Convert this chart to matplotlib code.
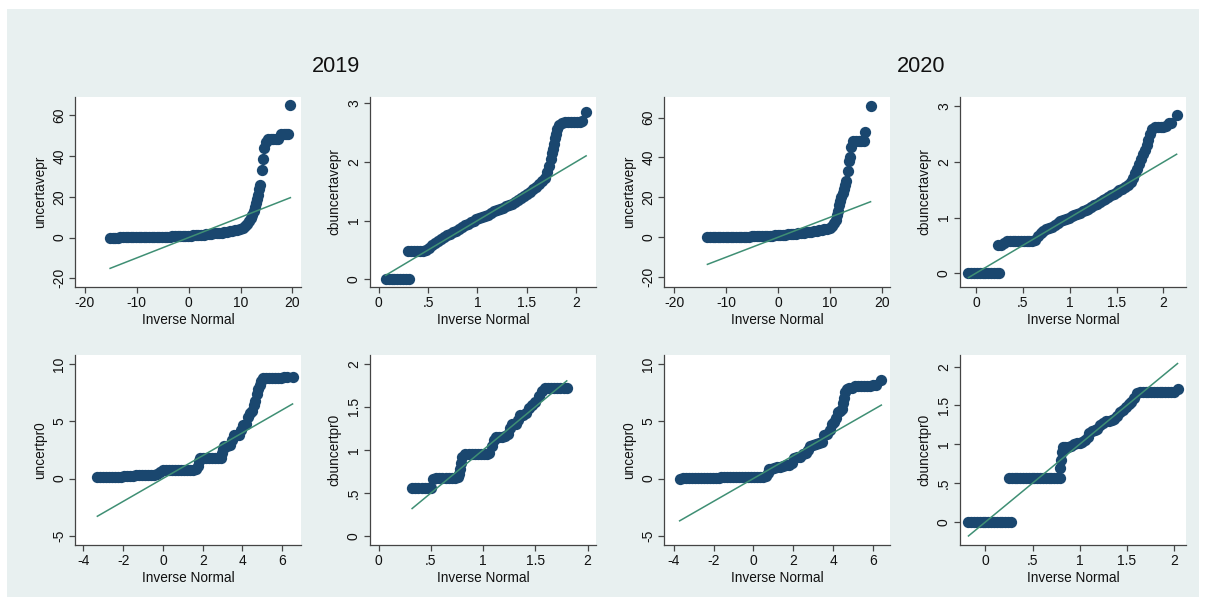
import matplotlib.pyplot as plt
from matplotlib.patches import Rectangle

plt.rcParams['font.family'] = ['Liberation Sans', 'DejaVu Sans']

# (inverse normal, value) pairs

# 2019 - uncertavepr
pts_u19 = [(-15.1, 0), (-14.6, 0), (-14.1, 0), (-13.6, 0), (-13.1, 0.05), (-12.6, 0.05),
           (-12.1, 0.1), (-11.6, 0.1), (-11.1, 0.1), (-10.6, 0.15), (-10.1, 0.15),
           (-9.6, 0.2), (-9.1, 0.2), (-8.6, 0.25), (-8.1, 0.25), (-7.6, 0.3), (-7.1, 0.3),
           (-6.6, 0.35), (-6.1, 0.35), (-5.6, 0.4), (-5.1, 0.4),
           (-4.6, 0.45), (-4.1, 0.5), (-3.6, 0.5), (-3.1, 0.55), (-2.6, 0.6), (-2.1, 0.65),
           (-1.6, 0.7), (-1.1, 0.75), (-0.6, 0.8), (-0.1, 0.9),
           (0.4, 1.0), (0.9, 1.1), (1.4, 1.2), (1.9, 1.3), (2.4, 1.4), (2.9, 1.5), (3.4, 1.6),
           (3.9, 1.75), (4.4, 1.9), (4.9, 2.05),
           (5.4, 2.2), (5.9, 2.35), (6.4, 2.5), (6.9, 2.7), (7.4, 2.9), (7.9, 3.1), (8.4, 3.35),
           (8.9, 3.6), (9.4, 3.9), (9.9, 4.3), (10.4, 4.8), (10.9, 5.5),
           (11.3, 6.5), (11.7, 8), (12.0, 9.5), (12.3, 11), (12.6, 13), (12.8, 15), (13.0, 17),
           (13.2, 19), (13.4, 21), (13.6, 24), (13.8, 26),
           (14.2, 33), (14.4, 38.5), (14.6, 44), (14.9, 47),
           (15.3, 48.5), (15.8, 48.5), (16.3, 48.5), (16.8, 48.5), (17.3, 48.5),
           (17.8, 51), (18.3, 51), (18.8, 51), (19.2, 51), (19.6, 65)]

# 2019 - cbuncertavepr
pts_c19 = [(0.07, 0), (0.10, 0), (0.13, 0), (0.16, 0), (0.19, 0), (0.22, 0), (0.25, 0),
           (0.28, 0), (0.31, 0),
           (0.30, 0.48), (0.33, 0.48), (0.36, 0.48), (0.39, 0.48), (0.42, 0.48), (0.45, 0.48),
           (0.48, 0.5),
           (0.51, 0.54), (0.54, 0.58), (0.57, 0.62), (0.60, 0.66), (0.63, 0.69), (0.66, 0.72),
           (0.69, 0.75), (0.72, 0.78), (0.75, 0.8), (0.78, 0.83), (0.81, 0.86), (0.84, 0.89),
           (0.87, 0.92), (0.90, 0.95), (0.93, 0.97), (0.96, 0.99), (0.99, 1.02), (1.02, 1.04),
           (1.05, 1.06), (1.08, 1.08), (1.11, 1.1), (1.14, 1.13), (1.17, 1.16), (1.20, 1.18),
           (1.23, 1.19), (1.26, 1.21), (1.29, 1.24), (1.32, 1.27), (1.35, 1.29), (1.38, 1.32),
           (1.41, 1.35), (1.44, 1.38), (1.47, 1.42), (1.50, 1.45), (1.53, 1.49), (1.56, 1.53),
           (1.59, 1.57), (1.62, 1.62), (1.65, 1.67), (1.68, 1.73), (1.70, 1.82), (1.72, 1.92),
           (1.74, 2.05), (1.75, 2.15), (1.76, 2.22), (1.77, 2.3), (1.78, 2.4), (1.79, 2.47),
           (1.81, 2.55), (1.83, 2.62), (1.86, 2.66), (1.89, 2.67), (1.92, 2.67), (1.95, 2.67),
           (1.98, 2.67), (2.01, 2.67), (2.04, 2.68), (2.06, 2.7), (2.10, 2.85)]

# 2020 - uncertavepr
pts_u20 = [(-13.6, 0), (-13.1, 0), (-12.6, 0), (-12.1, 0.05), (-11.6, 0.05), (-11.1, 0.1),
           (-10.6, 0.1), (-10.1, 0.1), (-9.6, 0.15), (-9.1, 0.15),
           (-8.6, 0.2), (-8.1, 0.2), (-7.6, 0.25), (-7.1, 0.25), (-6.6, 0.3), (-6.1, 0.3),
           (-5.6, 0.35), (-5.1, 0.4), (-4.6, 0.4), (-4.1, 0.45),
           (-3.6, 0.5), (-3.1, 0.55), (-2.6, 0.6), (-2.1, 0.65), (-1.6, 0.7), (-1.1, 0.8),
           (-0.6, 0.9), (-0.1, 1.0), (0.4, 1.1), (0.9, 1.2),
           (1.4, 1.3), (1.9, 1.4), (2.4, 1.5), (2.9, 1.65), (3.4, 1.8), (3.9, 1.95), (4.4, 2.1),
           (4.9, 2.25), (5.4, 2.4), (5.9, 2.6),
           (6.4, 2.8), (6.9, 3.0), (7.4, 3.2), (7.9, 3.45), (8.4, 3.7), (8.9, 4.0), (9.4, 4.3),
           (9.9, 4.8), (10.4, 5.5),
           (10.8, 7), (11.1, 8.5), (11.4, 11), (11.6, 13), (11.8, 16), (12.0, 18), (12.2, 20),
           (12.4, 22), (12.6, 24), (12.8, 26), (13.0, 28), (13.4, 33), (13.7, 38), (13.9, 40),
           (14.1, 45), (14.5, 48), (15.0, 48), (15.5, 48), (16.0, 48), (16.5, 48),
           (16.8, 52.8), (17.8, 65.7)]

# 2020 - cbuncertavepr
pts_c20 = [(-0.08, 0), (-0.05, 0), (-0.02, 0), (0.01, 0), (0.04, 0), (0.07, 0), (0.10, 0),
           (0.13, 0), (0.16, 0), (0.19, 0), (0.22, 0), (0.25, 0),
           (0.24, 0.5), (0.27, 0.5), (0.30, 0.55), (0.33, 0.57), (0.36, 0.57), (0.39, 0.57),
           (0.42, 0.57), (0.45, 0.57), (0.48, 0.57), (0.51, 0.57), (0.54, 0.57), (0.57, 0.57),
           (0.60, 0.58), (0.63, 0.6), (0.66, 0.66), (0.69, 0.72), (0.72, 0.76), (0.75, 0.79),
           (0.78, 0.81), (0.81, 0.83), (0.84, 0.87), (0.87, 0.9), (0.90, 0.93), (0.93, 0.96),
           (0.96, 0.98), (0.99, 1.0), (1.02, 1.02), (1.05, 1.04), (1.08, 1.07), (1.11, 1.09),
           (1.14, 1.11), (1.17, 1.14), (1.20, 1.16), (1.23, 1.19), (1.26, 1.22), (1.29, 1.25),
           (1.32, 1.28), (1.35, 1.31), (1.38, 1.34), (1.41, 1.37), (1.44, 1.4), (1.47, 1.43),
           (1.50, 1.46), (1.53, 1.49), (1.56, 1.52), (1.59, 1.55), (1.62, 1.59), (1.65, 1.64),
           (1.68, 1.71), (1.70, 1.8), (1.72, 1.88), (1.74, 1.96), (1.76, 2.05), (1.78, 2.14),
           (1.80, 2.22), (1.82, 2.3), (1.84, 2.4), (1.86, 2.5), (1.88, 2.6), (1.91, 2.63),
           (1.94, 2.63), (1.97, 2.63), (2.00, 2.63), (2.03, 2.65), (2.06, 2.7), (2.08, 2.7),
           (2.14, 2.85)]

# 2019 - uncertpr0
pts_p19 = [(-3.3, 0.1), (-3.15, 0.1), (-3.0, 0.1), (-2.85, 0.1), (-2.7, 0.12), (-2.55, 0.12),
           (-2.4, 0.12), (-2.25, 0.15), (-2.1, 0.15),
           (-1.95, 0.25), (-1.8, 0.25), (-1.65, 0.25), (-1.5, 0.25), (-1.35, 0.27), (-1.2, 0.27),
           (-1.05, 0.27), (-0.9, 0.3), (-0.75, 0.3), (-0.6, 0.3), (-0.45, 0.35), (-0.3, 0.4),
           (-0.15, 0.55), (0.0, 0.75),
           (0.15, 0.75), (0.3, 0.75), (0.45, 0.75), (0.6, 0.75), (0.75, 0.75), (0.9, 0.75),
           (1.05, 0.75), (1.2, 0.75), (1.35, 0.75), (1.5, 0.78), (1.65, 0.8),
           (1.75, 1.1), (1.8, 1.5), (1.85, 1.8),
           (2.0, 1.8), (2.15, 1.8), (2.3, 1.8), (2.45, 1.8), (2.6, 1.8), (2.75, 1.8), (2.9, 1.8),
           (2.95, 2.2), (3.0, 2.6), (3.05, 2.8), (3.2, 2.8), (3.35, 2.9),
           (3.45, 3.4), (3.55, 3.8), (3.7, 3.8), (3.85, 3.8), (3.95, 4.2), (4.05, 4.7),
           (4.2, 4.8), (4.3, 5.4), (4.4, 5.7), (4.5, 5.9), (4.58, 6.4), (4.65, 6.8),
           (4.72, 7.4), (4.8, 7.8), (4.88, 8.2), (4.95, 8.5), (5.05, 8.8), (5.2, 8.8),
           (5.35, 8.8), (5.5, 8.8), (5.65, 8.8), (5.8, 8.8), (5.95, 8.8), (6.1, 8.85),
           (6.25, 8.9), (6.52, 8.9)]

# 2019 - cbuncertpr0
pts_q19 = [(0.32, 0.56), (0.35, 0.56), (0.38, 0.56), (0.41, 0.56), (0.44, 0.56), (0.47, 0.56),
           (0.50, 0.56),
           (0.52, 0.66), (0.55, 0.67), (0.58, 0.67), (0.61, 0.67), (0.64, 0.67), (0.67, 0.67),
           (0.70, 0.67), (0.73, 0.67), (0.76, 0.68),
           (0.77, 0.72), (0.78, 0.78), (0.79, 0.85), (0.80, 0.92),
           (0.83, 0.95), (0.86, 0.95), (0.89, 0.95), (0.92, 0.95), (0.95, 0.95), (0.98, 0.95),
           (1.01, 0.95), (1.04, 0.95), (1.06, 0.96),
           (1.08, 1.05), (1.10, 1.12),
           (1.12, 1.15), (1.15, 1.15), (1.18, 1.15), (1.21, 1.16), (1.24, 1.18),
           (1.26, 1.25), (1.28, 1.3), (1.31, 1.3), (1.33, 1.35), (1.35, 1.4), (1.38, 1.4),
           (1.41, 1.43), (1.44, 1.48), (1.47, 1.52), (1.50, 1.56), (1.53, 1.62), (1.56, 1.68),
           (1.59, 1.72), (1.62, 1.72), (1.65, 1.72), (1.68, 1.72), (1.71, 1.72), (1.74, 1.72),
           (1.77, 1.72), (1.80, 1.72)]

# 2020 - uncertpr0
pts_p20 = [(-3.7, 0), (-3.55, 0.02), (-3.4, 0.05), (-3.25, 0.05), (-3.1, 0.05), (-2.95, 0.05),
           (-2.8, 0.05), (-2.65, 0.05), (-2.5, 0.05), (-2.35, 0.05), (-2.2, 0.05), (-2.05, 0.05),
           (-1.9, 0.05), (-1.75, 0.08), (-1.6, 0.1), (-1.45, 0.1), (-1.3, 0.1), (-1.15, 0.1),
           (-1.0, 0.1), (-0.85, 0.1), (-0.7, 0.1), (-0.55, 0.12), (-0.4, 0.12), (-0.25, 0.12),
           (-0.1, 0.12), (0.05, 0.15), (0.2, 0.15), (0.35, 0.15), (0.5, 0.15), (0.65, 0.2),
           (0.72, 0.5), (0.78, 0.8), (0.9, 0.85), (1.05, 0.9), (1.2, 1.0), (1.35, 1.05),
           (1.5, 1.1), (1.65, 1.15), (1.8, 1.2), (1.95, 1.4), (2.05, 1.8), (2.2, 1.85),
           (2.35, 1.9), (2.5, 2.1), (2.65, 2.2), (2.75, 2.5), (2.85, 2.8), (3.0, 2.9),
           (3.15, 3.0), (3.3, 3.1), (3.45, 3.2), (3.55, 3.8), (3.7, 3.9), (3.85, 4.2),
           (3.95, 4.8), (4.05, 4.9), (4.15, 5.3), (4.25, 5.8), (4.35, 5.9), (4.45, 6.1),
           (4.52, 6.6), (4.57, 7.0), (4.62, 7.6), (4.7, 7.8), (4.8, 7.9), (4.95, 7.9),
           (5.1, 8.1), (5.25, 8.1), (5.4, 8.1), (5.55, 8.1), (5.7, 8.1), (5.85, 8.1),
           (6.0, 8.15), (6.15, 8.2), (6.42, 8.6)]

# 2020 - cbuncertpr0
pts_q20 = [(-0.18, 0), (-0.15, 0), (-0.12, 0), (-0.09, 0), (-0.06, 0), (-0.03, 0), (0.0, 0),
           (0.03, 0), (0.06, 0), (0.09, 0), (0.12, 0), (0.15, 0), (0.18, 0), (0.21, 0),
           (0.24, 0), (0.27, 0),
           (0.25, 0.56), (0.28, 0.56), (0.31, 0.56), (0.34, 0.56), (0.37, 0.56), (0.40, 0.56),
           (0.43, 0.56), (0.46, 0.56), (0.49, 0.56), (0.52, 0.56), (0.55, 0.56), (0.58, 0.56),
           (0.61, 0.56), (0.64, 0.56), (0.67, 0.56), (0.70, 0.56), (0.73, 0.56), (0.76, 0.56),
           (0.79, 0.56),
           (0.79, 0.7), (0.80, 0.8), (0.81, 0.9), (0.82, 0.97),
           (0.85, 0.97), (0.88, 0.97), (0.91, 0.98), (0.94, 1.0), (0.97, 1.02), (1.00, 1.02),
           (1.03, 1.03), (1.06, 1.05), (1.09, 1.1), (1.10, 1.15), (1.13, 1.17), (1.16, 1.18),
           (1.19, 1.2), (1.22, 1.25), (1.25, 1.28), (1.28, 1.3), (1.31, 1.3), (1.34, 1.31),
           (1.37, 1.33), (1.40, 1.37), (1.43, 1.41), (1.46, 1.44), (1.49, 1.48), (1.52, 1.52),
           (1.55, 1.55), (1.58, 1.6), (1.61, 1.66), (1.64, 1.68),
           (1.67, 1.68), (1.70, 1.68), (1.73, 1.68), (1.76, 1.68), (1.79, 1.68), (1.82, 1.68),
           (1.85, 1.68), (1.88, 1.68), (1.91, 1.68), (1.94, 1.68), (1.97, 1.68), (2.00, 1.68),
           (2.04, 1.71)]

panels = [
    # (points, ylabel, left px, top px, xlim, ylim, xticks, yticks)
    (pts_u19, "uncertavepr", 75.3, 97, (-21.8, 21.7), (-24, 69),
     [-20, -10, 0, 10, 20], [-20, 0, 20, 40, 60]),
    (pts_c19, "cbuncertavepr", 370, 97, (-0.088, 2.2), (-0.12, 3.1),
     [0, 0.5, 1, 1.5, 2], [0, 1, 2, 3]),
    (pts_u20, "uncertavepr", 664.3, 97, (-21.9, 21.6), (-24.7, 70.3),
     [-20, -10, 0, 10, 20], [-20, 0, 20, 40, 60]),
    (pts_c20, "cbuncertavepr", 960, 97, (-0.17, 2.24), (-0.24, 3.17),
     [0, 0.5, 1, 1.5, 2], [0, 1, 2, 3]),
    (pts_p19, "uncertpr0", 75.3, 355, (-4.41, 6.96), (-5.77, 10.8),
     [-4, -2, 0, 2, 4, 6], [-5, 0, 5, 10]),
    (pts_q19, "cbuncertpr0", 370, 355, (-0.083, 2.08), (-0.097, 2.1),
     [0, 0.5, 1, 1.5, 2], [0, 0.5, 1, 1.5, 2]),
    (pts_p20, "uncertpr0", 664.3, 355, (-4.47, 6.87), (-5.77, 10.8),
     [-4, -2, 0, 2, 4, 6], [-5, 0, 5, 10]),
    (pts_q20, "cbuncertpr0", 960, 355, (-0.27, 2.13), (-0.29, 2.15),
     [0, 0.5, 1, 1.5, 2], [0, 0.5, 1, 1.5, 2]),
]


def fmt(v):
    s = f"{v:g}"
    if s.startswith("0."):
        s = s[1:]
    return s


W, H = 1206, 605
fig = plt.figure(figsize=(W / 100, H / 100), dpi=100, facecolor="white")
fig.patches.append(Rectangle((7 / W, 1 - 597 / H), 1192 / W, 588 / H,
                             transform=fig.transFigure, facecolor="#e8f0f0",
                             edgecolor="none", zorder=-10))

pw, ph = 226, 189.5
for pts, ylab, left, top, xl, yl, xt, yt in panels:
    x = [p[0] for p in pts]
    y = [p[1] for p in pts]
    ax = fig.add_axes([left / W, 1 - (top + ph) / H, pw / W, ph / H])
    ax.set_facecolor("white")
    ax.scatter(x, y, s=66, color="#1a476f", linewidths=0, zorder=2)
    # qnorm reference line y = x over the range of the inverse normal
    lo, hi = min(x), max(x)
    ax.plot([lo, hi], [lo, hi], color="#3f8f74", lw=1.1, zorder=3)
    ax.set_xlim(*xl)
    ax.set_ylim(*yl)
    ax.set_xticks(xt)
    ax.set_xticklabels([fmt(v) for v in xt])
    ax.set_yticks(yt)
    ax.set_yticklabels([fmt(v) for v in yt], rotation=90, va="center")
    for s in ["top", "right"]:
        ax.spines[s].set_visible(False)
    for s in ["left", "bottom"]:
        ax.spines[s].set_color("#444444")
        ax.spines[s].set_linewidth(0.9)
    ax.tick_params(length=4, width=0.9, color="#444444", labelsize=10,
                   labelcolor="#111111", pad=2.5)
    ax.set_xlabel("Inverse Normal", fontsize=9.8, color="#111111", labelpad=2.5)
    ax.set_ylabel(ylab, fontsize=9.8, color="#111111", labelpad=4)

fig.text(336 / W, 1 - 66 / H, "2019", fontsize=15.7, ha="center", va="center", color="#111111")
fig.text(921 / W, 1 - 66 / H, "2020", fontsize=15.7, ha="center", va="center", color="#111111")

fig.savefig("out.png", dpi=100, facecolor="white")
